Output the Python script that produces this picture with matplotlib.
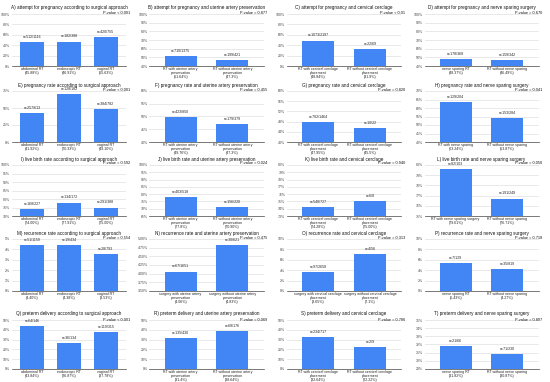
import matplotlib
matplotlib.use('Agg')
import matplotlib.pyplot as plt
from matplotlib.ticker import FuncFormatter
import numpy as np

plt.rcParams['font.family'] = ['Liberation Sans', 'DejaVu Sans']

W, H, DPI = 550, 382, 100
BLUE = '#4285F4'

# ── data ─────────────────────────────────────────────────────────────────────
SURG = ['abdominal RT', 'endoscopic RT', 'vaginal RT']
UA = ['RT with uterine artery\npreservation', 'RT without uterine artery\npreservation']
CC = ['RT with cervical cerclage\nplacement', 'RT without cervical cerclage\nplacement']
NSP = ['nerve sparing RT', 'RT without nerve sparing']

TITLES = [
    'A) attempt for pregnancy according to surgical approach',
    'B) attempt for pregnancy and uterine artery preservation',
    'C) attempt for pregnancy and cervical cerclage',
    'D) attempt for pregnancy and nerve sparing surgery',
    'E) pregnancy rate according to surgical approach',
    'F) pregnancy rate and uterine artery preservation',
    'G) pregnancy rate and cervical cerclage',
    'H) pregnancy rate and nerve sparing surgery',
    'I) live birth rate according to surgical approach',
    'J) live birth rate and uterine artery preservation',
    'K) live birth rate and cervical cerclage',
    'L) live birth rate and nerve sparing surgery',
    'M) recurrence rate according to surgical approach',
    'N) recurrence rate and uterine artery preservation',
    'O) recurrence rate and cervical cerclage',
    'P) recurrence rate and nerve sparing surgery',
    'Q) preterm delivery according to surgical approach',
    'R) preterm delivery and uterine artery preservation',
    'S) preterm delivery and cervical cerclage',
    'T) preterm delivery and nerve sparing surgery',
]

PVALS = ['< 0.001', '= 0.877', '< 0.01', '= 0.670',
         '< 0.001', '= 0.455', '= 0.820', '= 0.041',
         '= 0.592', '= 0.024', '= 0.940', '= 0.050',
         '= 0.554', '= 0.475', '= 0.313', '= 0.718',
         '< 0.001', '= 0.069', '= 0.786', '= 0.897']

CATS = [SURG, UA, CC, NSP,
        SURG, UA, CC, ['RT with nerve sparing', 'RT without nerve sparing'],
        SURG, UA, CC, ['RT with nerve sparing surgery', 'RT without nerve sparing'],
        SURG,
        ['surgery with uterine artery\npreservation', 'surgery without uterine artery\npreservation'],
        ['surgery with cervical cerclage\nplacement', 'surgery without cervical cerclage\nplacement'],
        NSP,
        SURG, UA, CC, NSP]

VALS = [[45.88, 46.91, 55.63], [51.64, 47.27], [48.84, 31.88], [48.37, 46.49],
        [41.92, 70.33, 49.10], [49.76, 47.23], [47.95, 45.45], [63.24, 53.87],
        [74.01, 77.91, 75.00], [77.80, 70.91], [74.28, 75.00], [79.61, 76.71],
        [4.40, 4.38, 3.53], [4.06, 4.83], [3.65, 7.14], [5.43, 4.27],
        [43.84, 26.87, 37.78], [31.40, 38.64], [32.64, 22.22], [31.82, 30.87]]

PCTS = [['45.88%', '46.91%', '55.63%'], ['51.64%', '47.3%'], ['48.84%', '31.9%'], ['48.37%', '46.49%'],
        ['41.92%', '70.33%', '49.10%'], ['49.76%', '47.3%'], ['47.95%', '45.5%'], ['63.24%', '53.87%'],
        ['74.00%', '77.91%', '75.00%'], ['77.8%', '70.90%'], ['74.28%', '75.00%'], ['79.61%', '76.71%'],
        ['4.40%', '4.38%', '3.53%'], ['4.06%', '4.83%'], ['3.65%', '7.1%'], ['5.43%', '4.27%'],
        ['43.84%', '26.87%', '37.78%'], ['31.4%', '38.64%'], ['32.64%', '22.22%'], ['31.82%', '30.87%']]

NS = [['n=512/1116', 'n=182/388', 'n=420/755'], ['n=710/1375', 'n=199/421'],
      ['n=1073/2197', 'n=22/69'], ['n=178/368', 'n=159/342'],
      ['n=257/613', 'n=128/182', 'n=384/782'], ['n=423/850', 'n=179/379'],
      ['n=702/1464', 'n=10/22'], ['n=129/204', 'n=153/284'],
      ['n=168/227', 'n=134/172', 'n=291/388'], ['n=403/518', 'n=156/220'],
      ['n=540/727', 'n=6/8'], ['n=82/103', 'n=191/249'],
      ['n=51/1159', 'n=19/434', 'n=28/793'], ['n=67/1651', 'n=30/621'],
      ['n=97/2658', 'n=4/56'], ['n=7/129', 'n=35/819'],
      ['n=64/146', 'n=36/134', 'n=119/315'], ['n=135/430', 'n=68/176'],
      ['n=234/717', 'n=2/9'], ['n=21/66', 'n=71/230']]

# y axis (low, high, step) per panel
YAX = [(0, 100, 20), (40, 100, 10), (0, 100, 20), (40, 100, 10),
       (0, 75, 25), (40, 60, 5), (40, 60, 4), (40, 70, 5),
       (70, 100, 5), (65, 100, 5), (73, 80, 1), (75, 80, 1),
       (0, 5, 1), (3.5, 5, 0.25), (0, 10, 2), (0, 10, 2),
       (0, 50, 10), (0, 50, 10), (0, 50, 10), (29, 35, 1)]

# ── layout (pixels) ──────────────────────────────────────────────────────────
# plot top, plot bottom, title y, p-value y
ROWS = [(14, 66, 8, 13), (91, 142, 85, 90), (165, 216, 159, 163),
        (239, 291, 234, 238), (320, 369, 314, 320)]
COL_W = 137.5
PL_L, PL_W = 12, 114

fig = plt.figure(figsize=(W/DPI, H/DPI), dpi=DPI)
fig.patch.set_facecolor('white')


def fx(x):
    return x / W


def fy(y):
    return 1 - y / H


for i in range(20):
    r, c = divmod(i, 4)
    top, bot, ty, py = ROWS[r]
    x0 = c * COL_W + PL_L
    ax = fig.add_axes([fx(x0), fy(bot), PL_W / W, (bot - top) / H])

    vals = VALS[i]
    k = len(vals)
    xs = np.arange(k)
    ax.bar(xs, vals, width=0.64 if k == 3 else 0.62, color=BLUE, zorder=3)

    lo, hi, st = YAX[i]
    ax.set_ylim(lo, hi)
    ticks = np.arange(lo, hi + st / 2, st)
    ax.set_yticks(ticks)
    if st < 1:
        ax.yaxis.set_major_formatter(FuncFormatter(lambda v, p: f'{v:.2f}%'))
    else:
        ax.yaxis.set_major_formatter(FuncFormatter(lambda v, p: f'{v:.0f}%'))
    if k == 3:
        ax.set_xlim(-0.55, 2.55)
    else:
        ax.set_xlim(-0.6, 1.6)
    ax.set_xticks(xs)
    ax.set_xticklabels([f'{cname}\n({p})' for cname, p in zip(CATS[i], PCTS[i])],
                       fontsize=2.6, color='#222222', linespacing=1.0)

    ax.grid(axis='y', color='#dcdcdc', lw=0.45, zorder=0)
    for s in ['top', 'right', 'left']:
        ax.spines[s].set_visible(False)
    ax.spines['bottom'].set_color('#444444')
    ax.spines['bottom'].set_linewidth(0.5)
    ax.tick_params(axis='y', length=0, labelsize=2.5, labelcolor='#444444', pad=1.2)
    ax.tick_params(axis='x', length=0, pad=1)

    span = hi - lo
    for xv, v, nt in zip(xs, vals, NS[i]):
        ax.text(xv, v + span * 0.06, nt, ha='center', va='bottom',
                fontsize=2.6, color='#222222', zorder=4)

    fig.text(fx(x0 + PL_W / 2), fy(ty), TITLES[i], ha='center', va='center',
             fontsize=3.3, color='#111111')
    fig.text(fx(x0 + PL_W + 4), fy(py), f'P-value {PVALS[i]}', ha='right',
             va='center', fontsize=2.8, color='#111111')

plt.savefig('out.png', dpi=DPI, facecolor='white')
